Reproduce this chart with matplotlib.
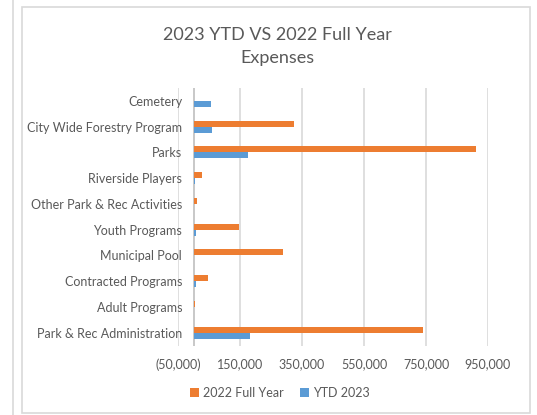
import matplotlib.pyplot as plt
from matplotlib.ticker import FuncFormatter
from matplotlib.patches import Rectangle
from matplotlib.lines import Line2D
import numpy as np

plt.rcParams['font.family'] = ['Lato', 'DejaVu Sans']

# categories from bottom to top
categories = ['Park & Rec Administration', 'Adult Programs', 'Contracted Programs',
              'Municipal Pool', 'Youth Programs', 'Other Park & Rec Activities',
              'Riverside Players', 'Parks', 'City Wide Forestry Program', 'Cemetery']
full_2022 = [740000, 4000, 47000, 290000, 146000, 11000, 26000, 910000, 324000, 0]
ytd_2023 = [181000, 500, 8000, 500, 7000, 0, 5000, 176000, 60000, 55000]

orange = '#ED7D31'
blue = '#5B9BD5'
txt = '#595959'
grid = '#D9D9D9'

fig = plt.figure(figsize=(5.37, 4.15), dpi=100)

# spreadsheet borders
fig.add_artist(Line2D([12.5/537, 12.5/537], [0, 1], color=grid, lw=1.2))
fig.add_artist(Rectangle((22/537, 2/415), 508/537, 406/415, fill=False,
                         edgecolor=grid, lw=1.2))

ax = fig.add_axes([178/537, 69.4/415, 310/537, 257.6/415])
y = np.arange(len(categories))
h = 0.235
ax.barh(y + h/2, full_2022, height=h, color=orange, label='2022 Full Year', zorder=3)
ax.barh(y - h/2, ytd_2023, height=h, color=blue, label='YTD 2023', zorder=3)

ax.set_xlim(-50000, 950000)
ax.set_ylim(-0.5, len(categories) - 0.5)
ax.set_xticks(np.arange(-50000, 950001, 200000))
ax.xaxis.set_major_formatter(FuncFormatter(
    lambda v, p: '({:,.0f})'.format(-v) if v < 0 else '{:,.0f}'.format(v)))
ax.set_yticks(y)
ax.set_yticklabels(categories)
ax.grid(axis='x', color=grid, lw=1.2, zorder=0)
ax.axvline(0, color='#BFBFBF', lw=1.2, zorder=2)
for s in ax.spines.values():
    s.set_visible(False)
ax.tick_params(axis='y', length=0, pad=-3, labelsize=9, labelcolor=txt)
ax.tick_params(axis='x', length=0, pad=9, labelsize=9, labelcolor=txt)

fig.text(277/537, 1 - 35/415, '2023 YTD VS 2022 Full Year', ha='center', va='center',
         fontsize=13, color=txt)
fig.text(277/537, 1 - 57.5/415, 'Expenses', ha='center', va='center',
         fontsize=13, color=txt)

fig.legend(loc='center', bbox_to_anchor=(280/537, 1 - 392.5/415), ncol=2, frameon=False,
           fontsize=9, labelcolor=txt, handlelength=0.7, handleheight=0.7,
           handletextpad=0.35, columnspacing=1.3)

fig.savefig('out.png', dpi=100)
